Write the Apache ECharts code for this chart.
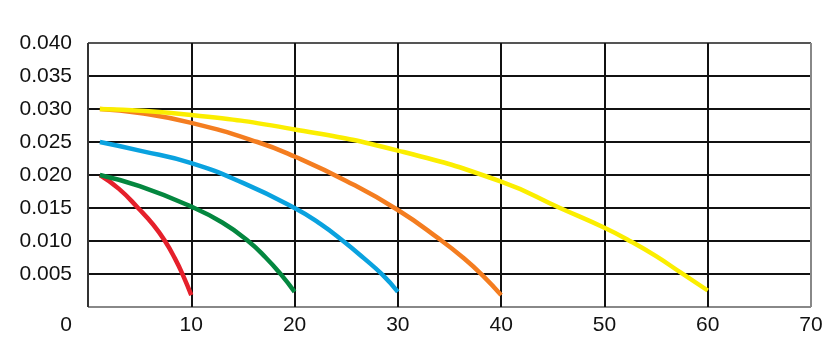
<!DOCTYPE html>
<html><head><meta charset="utf-8">
<script src="https://cdn.jsdelivr.net/npm/echarts@6/dist/echarts.min.js"></script>
<style>html,body{margin:0;padding:0;background:#fff}#c{width:833px;height:338px}</style>
</head><body><div id="c"></div>
<script>
const xTicks = [0, 10, 20, 30, 40, 50, 60, 70];
const yTicks = [0, 0.005, 0.010, 0.015, 0.020, 0.025, 0.030, 0.035, 0.040];
const redCurve = [[1.15,0.020],[3,0.0179],[4.85,0.015],[6.3,0.0125],[7.45,0.010],[8.4,0.0074],[9.2,0.0048],[10,0.0018]];
const greenCurve = [[1.15,0.020],[5,0.0183],[10,0.0152],[13,0.0128],[15.5,0.010],[17.2,0.0075],[18.7,0.0049],[20,0.0023]];
const blueCurve = [[1.15,0.025],[5,0.0237],[10,0.0218],[15,0.0188],[20,0.015],[22.5,0.0126],[24.7,0.010],[26.7,0.0074],[28.5,0.0049],[30,0.0023]];
const orangeCurve = [[1.15,0.030],[5,0.0294],[10,0.0279],[16.4,0.025],[20,0.0228],[25,0.0191],[30,0.0147],[34.1,0.0102],[36.3,0.0075],[38.2,0.0048],[40,0.0018]];
const yellowCurve = [[1.15,0.030],[10,0.0291],[20,0.0269],[30,0.0237],[40,0.0190],[45.7,0.015],[50,0.012],[52.6,0.0099],[55,0.0077],[57.4,0.0052],[60,0.0025]];
const seriesList = [
  {name:'red', data:redCurve, color:'#e5202b'},
  {name:'green', data:greenCurve, color:'#04873f'},
  {name:'blue', data:blueCurve, color:'#0aa2df'},
  {name:'orange', data:orangeCurve, color:'#f47d20'},
  {name:'yellow', data:yellowCurve, color:'#fbee00'}
];
const chart = echarts.init(document.getElementById('c'));
const font = 'Liberation Sans, Arial, sans-serif';
chart.setOption({
  animation:false,
  grid:{left:88, right:22, top:43, bottom:31, containLabel:false},
  xAxis:{type:'value', min:0, max:70, interval:10,
    axisLine:{show:false}, axisTick:{show:false},
    axisLabel:{fontSize:21, color:'#111', fontFamily:font, margin:8,
      formatter:v => v === 0 ? '' : String(v)},
    splitLine:{show:true, lineStyle:{color:['#333','#111','#111','#111','#111','#111','#111','#888'], width:2}}
  },
  yAxis:{type:'value', min:0, max:0.04, interval:0.005,
    axisLine:{show:false}, axisTick:{show:false},
    axisLabel:{fontSize:21, color:'#111', fontFamily:font, margin:16,
      formatter:v => v === 0 ? '{z|0}' : v.toFixed(3),
      rich:{z:{fontSize:21, color:'#111', fontFamily:font, padding:[36,0,0,0]}}},
    splitLine:{show:true, lineStyle:{color:['#888','#111','#111','#111','#111','#111','#111','#111','#555'], width:2}}
  },
  series: seriesList.map(s => ({
    type:'line', name:s.name, data:s.data, smooth:0.5, symbol:'none',
    lineStyle:{color:s.color, width:4.5}, z:3
  }))
});
</script></body></html>
